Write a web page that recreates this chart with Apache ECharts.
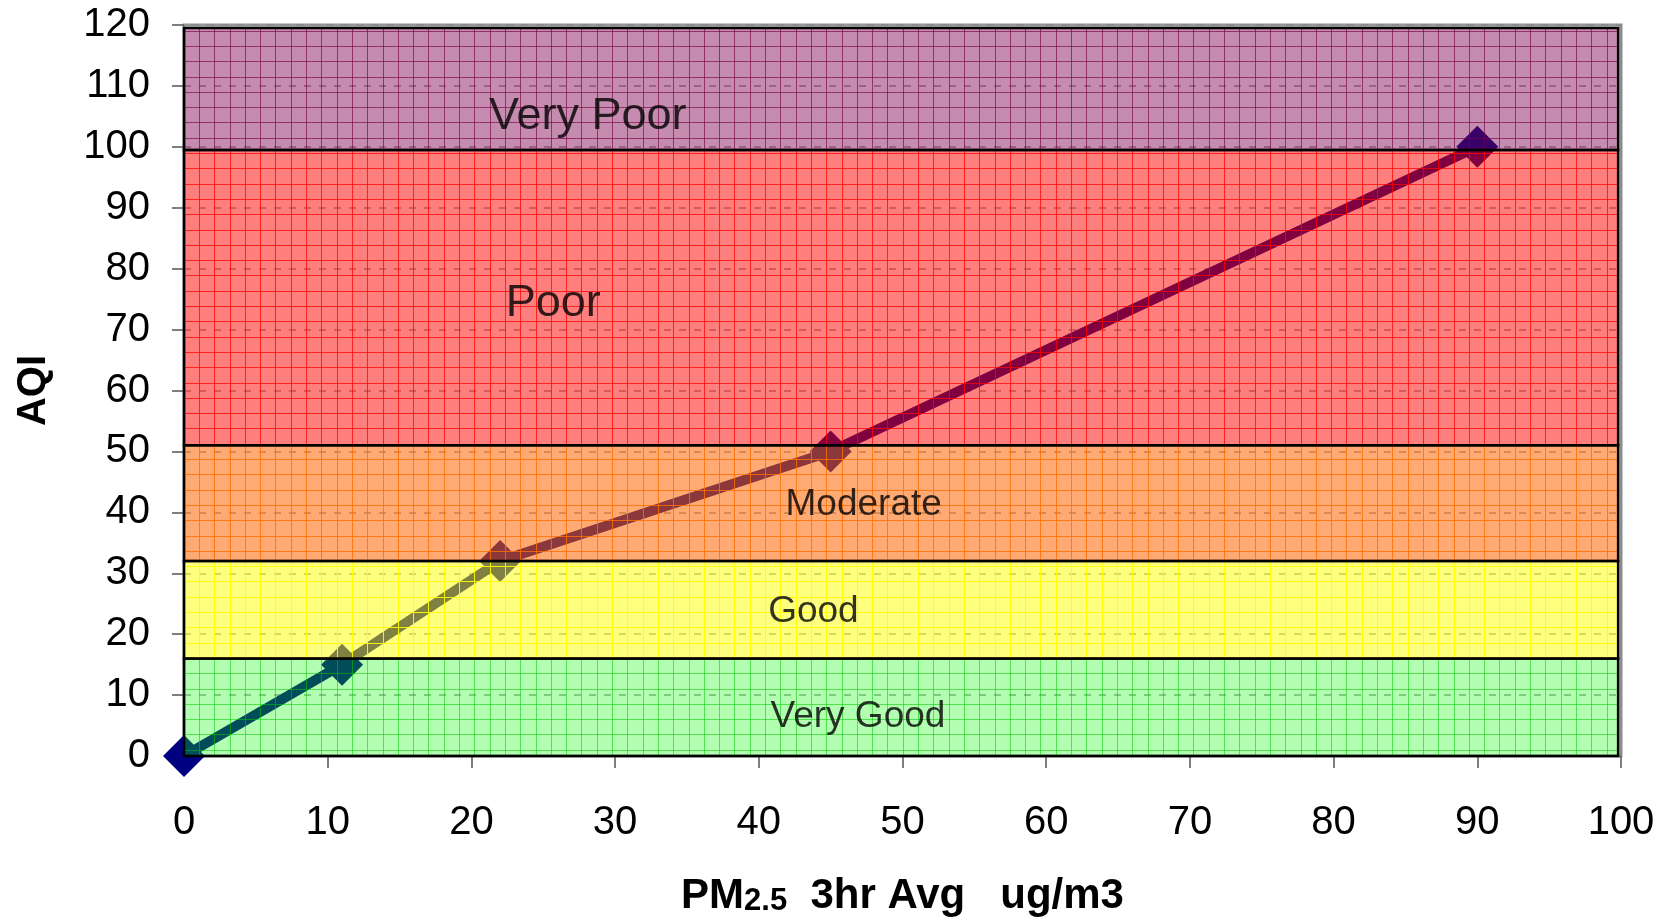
<!DOCTYPE html>
<html>
<head>
<meta charset="utf-8">
<script src="https://cdn.jsdelivr.net/npm/echarts@6/dist/echarts.min.js"></script>
<style>
html,body{margin:0;padding:0;background:#fff;}
#chart{width:1677px;height:922px;}
</style>
</head>
<body>
<div id="chart"></div>
<script>
// ---- data ----
const pm25 = [0, 11, 22, 45, 90];
const aqi = [0, 15, 32, 50, 100];
const xTicks = [0, 10, 20, 30, 40, 50, 60, 70, 80, 90, 100];
const yTicks = [0, 10, 20, 30, 40, 50, 60, 70, 80, 90, 100, 110, 120];
const bandNames = ['Very Good', 'Good', 'Moderate', 'Poor', 'Very Poor'];
const bandLow = [0, 16, 32, 51, 99.5];
const bandHigh = [16, 32, 51, 99.5, 119.5];
// label anchors in data units
const bandLabelX = [46.9, 43.8, 47.3, 25.7, 28.1];
const bandLabelY = [6.4, 23.7, 41.3, 74.2, 104.9];

// ---- styles ----
const FONT = "'Liberation Sans', Arial, sans-serif";
const bandFill = ['rgba(0,255,0,0.30)', 'rgba(255,255,0,0.50)', 'rgba(255,100,0,0.55)', 'rgba(255,0,0,0.50)', 'rgba(128,0,80,0.45)'];
const bandGrid = ['rgba(0,200,0,0.55)', 'rgba(255,255,0,0.9)', 'rgba(255,110,0,0.8)', 'rgba(255,0,0,0.75)', 'rgba(120,0,70,0.65)'];
const bandFont = [37, 37, 37, 45, 45];

function makePattern(fill, line) {
  const cell = 15.3, n = 10;
  const size = Math.round(cell * n);
  const c = document.createElement('canvas');
  c.width = size; c.height = size;
  const g = c.getContext('2d');
  g.fillStyle = fill;
  g.fillRect(0, 0, size, size);
  g.fillStyle = line;
  for (let i = 0; i < n; i++) {
    const p = Math.round(i * cell);
    g.fillRect(p, 0, 1, size);
    g.fillRect(0, p, size, 1);
  }
  return c;
}
const patterns = bandFill.map((f, i) => makePattern(f, bandGrid[i]));

const lineData = pm25.map((x, i) => [x, aqi[i]]);
const bandData = bandNames.map((n, i) => [bandLow[i], bandHigh[i], i]);
const labelData = bandNames.map((n, i) => ({ name: n, value: [bandLabelX[i], bandLabelY[i]],
  label: { fontSize: bandFont[i] } }));

const chart = echarts.init(document.getElementById('chart'), null, { renderer: 'canvas' });
chart.setOption({
  animation: false,
  backgroundColor: '#fff',
  textStyle: { fontFamily: FONT },
  grid: { left: 184, right: 56, top: 25, bottom: 160, show: true, borderColor: '#8c8c8c', borderWidth: 3, backgroundColor: '#fff' },
  xAxis: {
    type: 'value', min: xTicks[0], max: xTicks[xTicks.length - 1], interval: 10,
    axisLine: { show: false },
    axisTick: { show: true, length: 12, lineStyle: { color: '#555', width: 1.5 } },
    axisLabel: { fontSize: 40, color: '#000', margin: 47, fontFamily: FONT },
    splitLine: { show: false },
    name: '{a|PM}{b|2.5}{a|  3hr Avg   ug/m3}',
    nameLocation: 'middle', nameGap: 115,
    nameTextStyle: {
      rich: {
        a: { fontSize: 42, fontWeight: 'bold', color: '#000', fontFamily: FONT, lineHeight: 46, verticalAlign: 'bottom' },
        b: { fontSize: 31, fontWeight: 'bold', color: '#000', fontFamily: FONT, lineHeight: 46, verticalAlign: 'bottom' }
      }
    }
  },
  yAxis: {
    type: 'value', min: yTicks[0], max: yTicks[yTicks.length - 1], interval: 10,
    axisLine: { show: false },
    axisTick: { show: true, length: 12, lineStyle: { color: '#555', width: 1.5 } },
    axisLabel: { fontSize: 40, color: '#000', margin: 34, fontFamily: FONT },
    splitLine: { show: true, lineStyle: { color: '#9a9a9a', width: 1.5, type: [7, 8] } },
    name: 'AQI', nameLocation: 'middle', nameGap: 130, nameRotate: 90,
    nameTextStyle: { fontSize: 40, fontWeight: 'bold', color: '#000', fontFamily: FONT }
  },
  series: [
    {
      type: 'line', data: lineData, z: 2, clip: false,
      lineStyle: { color: '#000080', width: 10 },
      itemStyle: { color: '#000080' },
      symbol: 'diamond', symbolSize: 42, showSymbol: true
    },
    {
      type: 'custom', z: 5, data: bandData, clip: false,
      renderItem: function (params, api) {
        const lo = api.value(0), hi = api.value(1), idx = api.value(2);
        const p1 = api.coord([0, hi]);
        const p2 = api.coord([99.8, lo]);
        return {
          type: 'rect',
          shape: { x: p1[0], y: p1[1], width: p2[0] - p1[0], height: p2[1] - p1[1] },
          style: { fill: { image: patterns[idx], repeat: 'repeat' }, stroke: '#000', lineWidth: 2.5 }
        };
      }
    },
    {
      type: 'scatter', z: 10, data: labelData, symbolSize: 0, silent: true,
      label: { show: true, position: 'inside', formatter: '{b}', color: '#000', fontFamily: FONT }
    }
  ]
});
</script>
</body>
</html>
